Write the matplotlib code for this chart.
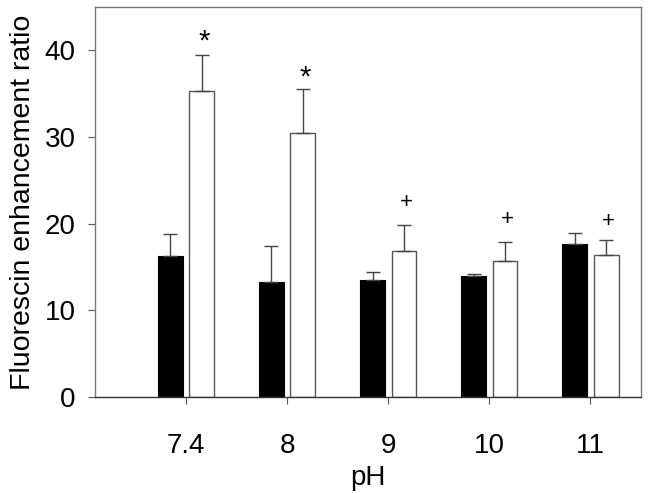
import numpy as np
from matplotlib import pyplot as plt

plt.rcParams['font.family'] = ['Liberation Sans', 'DejaVu Sans']

ph_labels = ['7.4', '8', '9', '10', '11']
black_vals = [16.3, 13.3, 13.5, 14.0, 17.6]
black_err = [2.5, 4.1, 0.9, 0.2, 1.3]
white_vals = [35.3, 30.5, 16.9, 15.7, 16.4]
white_err = [4.2, 5.0, 3.0, 2.2, 1.7]
marks = ['*', '*', '+', '+', '+']
mark_y = [41.7, 37.6, 22.4, 20.5, 20.2]

x = np.arange(len(ph_labels))
w = 0.245
off = 0.155

fig = plt.figure(figsize=(6.49, 4.93), dpi=100)
ax = fig.add_axes([95 / 649, 1 - 397 / 493, 546 / 649, 390 / 493])

err_kw = dict(ecolor='#444444', elinewidth=1.0, capsize=5, capthick=1.0)
ax.bar(x - off, black_vals, w, color='black', edgecolor='black', linewidth=0.8,
       yerr=[np.zeros(len(x)), black_err], error_kw=err_kw)
ax.bar(x + off, white_vals, w, color='white', edgecolor='#555555', linewidth=1.0,
       yerr=[np.zeros(len(x)), white_err], error_kw=err_kw)

for i, (m, y) in enumerate(zip(marks, mark_y)):
    if m == '*':
        ax.text(x[i] + off + 0.02, y - 0.7, m, ha='center', va='center', fontsize=21)
    else:
        ax.text(x[i] + off + 0.02, y, m, ha='center', va='center', fontsize=16)

ax.set_xlim(-0.9, 4.5)
ax.set_ylim(0, 45)
ax.set_xticks(x)
ax.set_xticklabels(ph_labels)
ax.set_yticks([0, 10, 20, 30, 40])
ax.tick_params(axis='both', direction='out', length=5, width=0.8, color='#555555',
               labelsize=20)
ax.tick_params(axis='x', pad=21)
ax.tick_params(axis='y', pad=9)
for s in ax.spines.values():
    s.set_color('#777777')
    s.set_linewidth(1.0)
ax.spines['bottom'].set_color('#333333')

ax.set_xlabel('pH', fontsize=20, labelpad=4)
ax.set_ylabel('Fluorescin enhancement ratio', fontsize=20.5, labelpad=6)

fig.savefig('out.png', dpi=100)
